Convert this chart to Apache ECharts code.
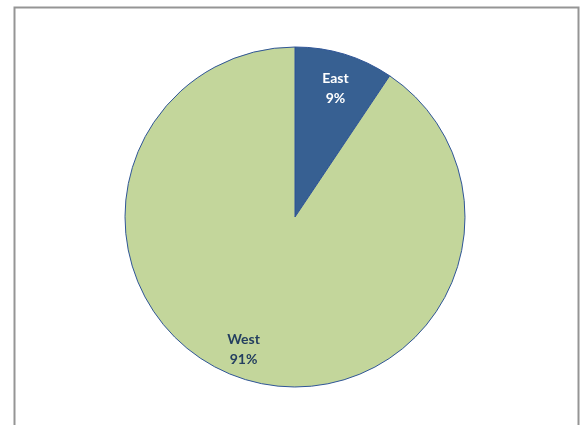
<!DOCTYPE html>
<html><head><meta charset="utf-8">
<script src="https://cdn.jsdelivr.net/npm/echarts@6/dist/echarts.min.js"></script>
<style>html,body{margin:0;padding:0;background:#fff;}#c{width:582px;height:425px;}</style>
</head><body><div id="c"></div>
<script>
const categories = ['East', 'West'];
const values = [9.4, 90.6];
const colors = ['#376092', '#c3d69b'];
const labelColors = ['#ffffff', '#243f60'];
const labelOffsets = [[0, 4], [-11, 0]];

const data = categories.map((n, i) => ({ name: n, value: values[i], itemStyle: { color: colors[i] } }));
const labelData = categories.map((n, i) => ({ name: n, value: values[i], label: { color: labelColors[i], offset: labelOffsets[i] } }));

const chart = echarts.init(document.getElementById('c'), null, { renderer: 'canvas' });
chart.setOption({
  backgroundColor: '#ffffff',
  animation: false,
  graphic: [{
    type: 'rect', left: 12, top: 5, shape: { x: 0, y: 0, width: 564, height: 440 },
    style: { fill: 'none', stroke: '#959595', lineWidth: 2 }, silent: true
  }],
  series: [{
    type: 'pie',
    center: [295, 217],
    radius: 170,
    startAngle: 90,
    clockwise: true,
    label: { show: false },
    labelLine: { show: false },
    itemStyle: { borderColor: '#2f5597', borderWidth: 1 },
    emphasis: { disabled: true },
    data: data
  }, {
    type: 'pie',
    center: [295, 217],
    radius: [102, 170],
    startAngle: 90,
    clockwise: true,
    silent: true,
    itemStyle: { color: 'rgba(0,0,0,0)', borderWidth: 0 },
    label: {
      show: true, position: 'inside',
      fontFamily: 'Lato, "Open Sans", sans-serif', fontWeight: 'bold', fontSize: 14, lineHeight: 20,
      formatter: p => p.name + '\n' + Math.round(p.percent) + '%'
    },
    labelLine: { show: false },
    emphasis: { disabled: true },
    data: labelData
  }]
});
</script></body></html>
